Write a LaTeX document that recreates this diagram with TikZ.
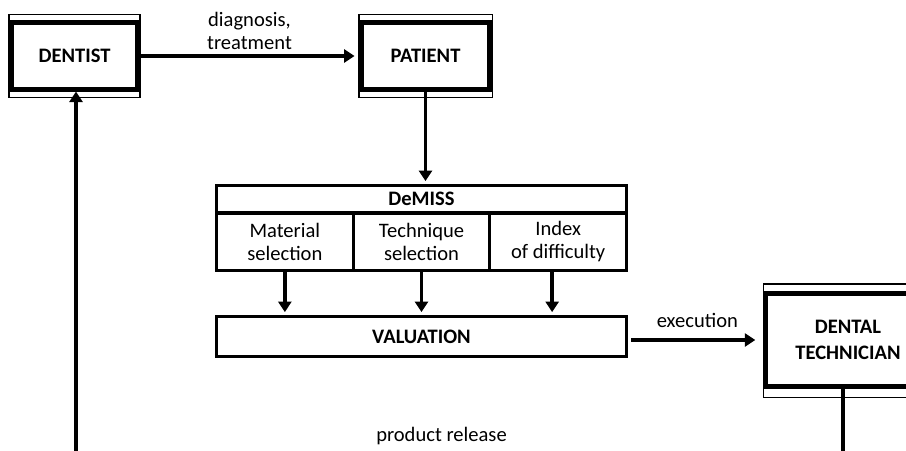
\documentclass[tikz,border=0pt]{standalone}
\usepackage{fontspec}
\setmainfont{Carlito}
\usetikzlibrary{arrows.meta,positioning}

\begin{document}
\begin{tikzpicture}[x=0.02cm,y=-0.02cm]
  \tikzstyle{every node}+=[font=\fontsize{11.7}{13}\selectfont]
  \tikzstyle{actor}=[draw=black, line width=2.6pt, font=\fontsize{11.7}{15}\selectfont\bfseries, align=center, minimum width=2.53cm, minimum height=1.33cm, inner sep=0pt]
  \tikzstyle{frame}=[black, line width=0.6pt]
  \tikzstyle{cell}=[draw=black, line width=1.8pt, outer sep=0pt, align=center, inner sep=0pt]
  \tikzstyle{arr}=[black, line width=1.9pt, -{Triangle[length=6pt,width=7.4pt]}, shorten >=2.5pt]
  \tikzstyle{lbl}=[inner sep=0pt, align=center]

  \useasboundingbox (0,0) rectangle (906,450);
  \clip (0,0) rectangle (906,450);

  \node [actor] (dentist) at (74.5,56) {DENTIST};
  \node [actor, minimum width=2.57cm] (patient) at (425.5,56) {PATIENT};
  \node [actor, minimum width=3.3cm, minimum height=1.87cm] (tech) at (848,340) {DENTAL\\TECHNICIAN};
  \draw [frame] ([yshift=0.12cm]dentist.north west) rectangle ([yshift=-0.12cm]dentist.south east);
  \draw [frame] ([yshift=0.12cm]patient.north west) rectangle ([yshift=-0.12cm]patient.south east);
  \draw [frame] ([yshift=0.14cm]tech.north west) rectangle ([yshift=-0.16cm]tech.south east);

  \node [cell, minimum width=8.2cm, minimum height=0.55cm, font=\fontsize{11.7}{13}\selectfont\bfseries] (demiss) at (421.5,199.25) {DeMISS};
  \node [cell, anchor=north west, minimum width=2.7333cm, minimum height=1.15cm] (material) at (demiss.south west) {Material\\selection};
  \node [cell, anchor=north west, minimum width=2.7333cm, minimum height=1.15cm] (technique) at (material.north east) {Technique\\selection};
  \node [cell, anchor=north west, minimum width=2.7333cm, minimum height=1.15cm] (index) at (technique.north east) {Index\\of difficulty};
  \node [cell, minimum width=8.2cm, minimum height=0.8cm, font=\fontsize{11.7}{13}\selectfont\bfseries] (valuation) at (421.5,336.5) {VALUATION};

  \draw [arr] (dentist) -- node [lbl, above=2.5pt] {diagnosis,\\treatment} (patient);
  \draw [arr] (patient.south) -- (patient.south |- demiss.north);
  \draw [arr] (material.south) -- (material.south |- valuation.north);
  \draw [arr] (technique.south) -- (technique.south |- valuation.north);
  \draw [arr] ([xshift=-0.12cm]index.south) -- ([xshift=-0.12cm]index.south |- valuation.north);
  \draw [arr, shorten >=4.5pt] ([xshift=0.1cm]valuation.east |- tech.west) -- node [lbl, above=6pt] {execution} (tech.west);

  \coordinate (loopR) at (843,455);
  \coordinate (loopL) at (76,455);
  \draw [arr, shorten >=0pt] (tech.south -| loopR) -- (loopR) -- node [lbl, above=5pt, xshift=-0.36cm] {product release} (loopL) -- (loopL |- dentist.south);
\end{tikzpicture}
\end{document}
